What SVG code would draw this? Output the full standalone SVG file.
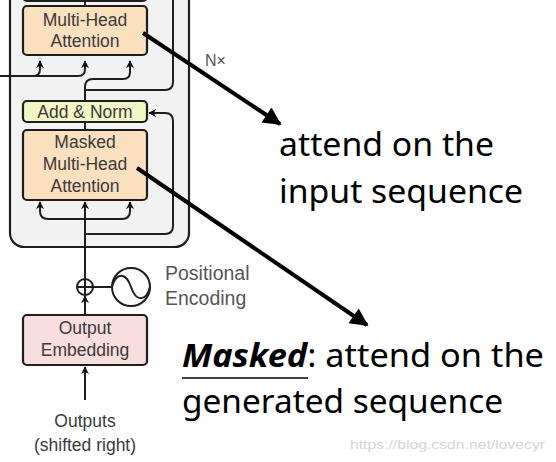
<svg xmlns="http://www.w3.org/2000/svg" width="556" height="462" viewBox="0 0 556 462">
<defs>
<marker id="sa" viewBox="0 0 10 10" refX="9" refY="5" markerWidth="8" markerHeight="8" markerUnits="userSpaceOnUse" orient="auto">
<path d="M0,0 L10,5 L0,10 L3,5 Z" fill="#111"/>
</marker>
<marker id="ba" viewBox="0 0 10 10" refX="9" refY="5" markerWidth="20" markerHeight="18" markerUnits="userSpaceOnUse" orient="auto">
<path d="M0,0 L10,5 L0,10 Z" fill="#000"/>
</marker>
<style>
.box{stroke:#1e1e1e;stroke-width:2.2}
.mha{fill:#fbe0c0}
.an{fill:#f2f5c6}
.emb{fill:#f9dede}
.lbl{font-family:"Liberation Sans",Arial,sans-serif;font-size:17.5px;fill:#3a3a3a;text-anchor:middle}
.side{font-family:"Liberation Sans",Arial,sans-serif;fill:#555}
.ln{fill:none;stroke:#1e1e1e;stroke-width:2}
.big{font-family:"Noto Sans","Open Sans",sans-serif;font-size:32px;fill:#000}
</style>
</defs>
<g id="nx-block">
<rect x="10" y="-20" width="179" height="267" rx="14" fill="#f2f2f2" stroke="#1e1e1e" stroke-width="2.2"/>
</g>
<g id="addnorm-top">
<rect class="box an" x="23" y="-25" width="124" height="26" rx="4"/>
</g>
<g id="connectors">
<path class="ln" d="M85,-5 V6"/>
<path class="ln" d="M-5,76 H33 Q40,76 40,69 V61" marker-end="url(#sa)"/>
<path class="ln" d="M33,76 H78 Q85,76 85,69 V61" marker-end="url(#sa)"/>
<path class="ln" d="M85,101 V87 Q85,79 93,79 H123 Q130,79 130,72 V61" marker-end="url(#sa)"/>
<path class="ln" d="M85,90 H165 Q173,90 173,82 V-5"/>
<path class="ln" d="M85,122 V130"/>
<path class="ln" d="M85,278 V202" marker-end="url(#sa)"/>
<path class="ln" d="M85,219 H48 Q40,219 40,211 V202" marker-end="url(#sa)"/>
<path class="ln" d="M85,219 H122 Q130,219 130,211 V202" marker-end="url(#sa)"/>
<path class="ln" d="M85,234 H165 Q173,234 173,226 V121 Q173,113 165,113 H149" marker-end="url(#sa)"/>
<path class="ln" d="M85,315 V296" marker-end="url(#sa)"/>
<path class="ln" d="M85,400 V367" marker-end="url(#sa)"/>
<path class="ln" d="M93,287 H112"/>
</g>
<g id="mha">
<rect class="box mha" x="23" y="6" width="124" height="49" rx="4"/>
<text class="lbl" x="85" y="26">Multi-Head</text>
<text class="lbl" x="85" y="47">Attention</text>
</g>
<g id="addnorm">
<rect class="box an" x="23" y="101" width="124" height="21" rx="4"/>
<text class="lbl" x="85" y="118">Add &amp; Norm</text>
</g>
<g id="masked-mha">
<rect class="box mha" x="23" y="130" width="124" height="70" rx="4"/>
<text class="lbl" x="85" y="148">Masked</text>
<text class="lbl" x="85" y="170">Multi-Head</text>
<text class="lbl" x="85" y="192">Attention</text>
</g>
<g id="nx-label">
<text class="side" x="205" y="66" font-size="16">N×</text>
</g>
<g id="add-op">
<circle cx="85" cy="287" r="8" fill="#fff" stroke="#1e1e1e" stroke-width="2"/>
<path class="ln" d="M85,279 V295 M77,287 H93" stroke-width="1.6"/>
</g>
<g id="positional-encoding">
<circle cx="131" cy="287" r="19" fill="#fff" stroke="#1e1e1e" stroke-width="2"/>
<path class="ln" d="M112,287 C116,272 126,272 131,287 C136,302 146,302 150,287" stroke-width="1.8"/>
<text class="side" x="165" y="280" font-size="19.5">Positional</text>
<text class="side" x="165" y="305" font-size="19.5">Encoding</text>
</g>
<g id="output-embedding">
<rect class="box emb" x="23" y="315" width="124" height="50" rx="4"/>
<text class="lbl" x="85" y="334">Output</text>
<text class="lbl" x="85" y="356">Embedding</text>
</g>
<g id="outputs">
<text class="lbl" x="85" y="427" fill="#444">Outputs</text>
<text class="lbl" x="85" y="451" fill="#444">(shifted right)</text>
</g>
<g id="annotations">
<line x1="143" y1="33" x2="280" y2="124" stroke="#000" stroke-width="4" marker-end="url(#ba)"/>
<line x1="137" y1="168" x2="367" y2="325" stroke="#000" stroke-width="4" marker-end="url(#ba)"/>
<text class="big" x="279" y="156" textLength="215" lengthAdjust="spacingAndGlyphs">attend on the</text>
<text class="big" x="279" y="203" textLength="244" lengthAdjust="spacingAndGlyphs">input sequence</text>
<text class="big" x="182" y="367" textLength="362" lengthAdjust="spacingAndGlyphs"><tspan font-weight="bold" font-style="italic">Masked</tspan>: attend on the</text>
<line x1="182" y1="378" x2="308" y2="378" stroke="#000" stroke-width="1.5"/>
<text class="big" x="182" y="413" textLength="321" lengthAdjust="spacingAndGlyphs">generated sequence</text>
<text x="350" y="449" font-family="Liberation Sans, Arial, sans-serif" font-size="13.5" fill="#d4d4d4" textLength="195" lengthAdjust="spacingAndGlyphs">https://blog.csdn.net/lovecyr</text>
</g>
</svg>
